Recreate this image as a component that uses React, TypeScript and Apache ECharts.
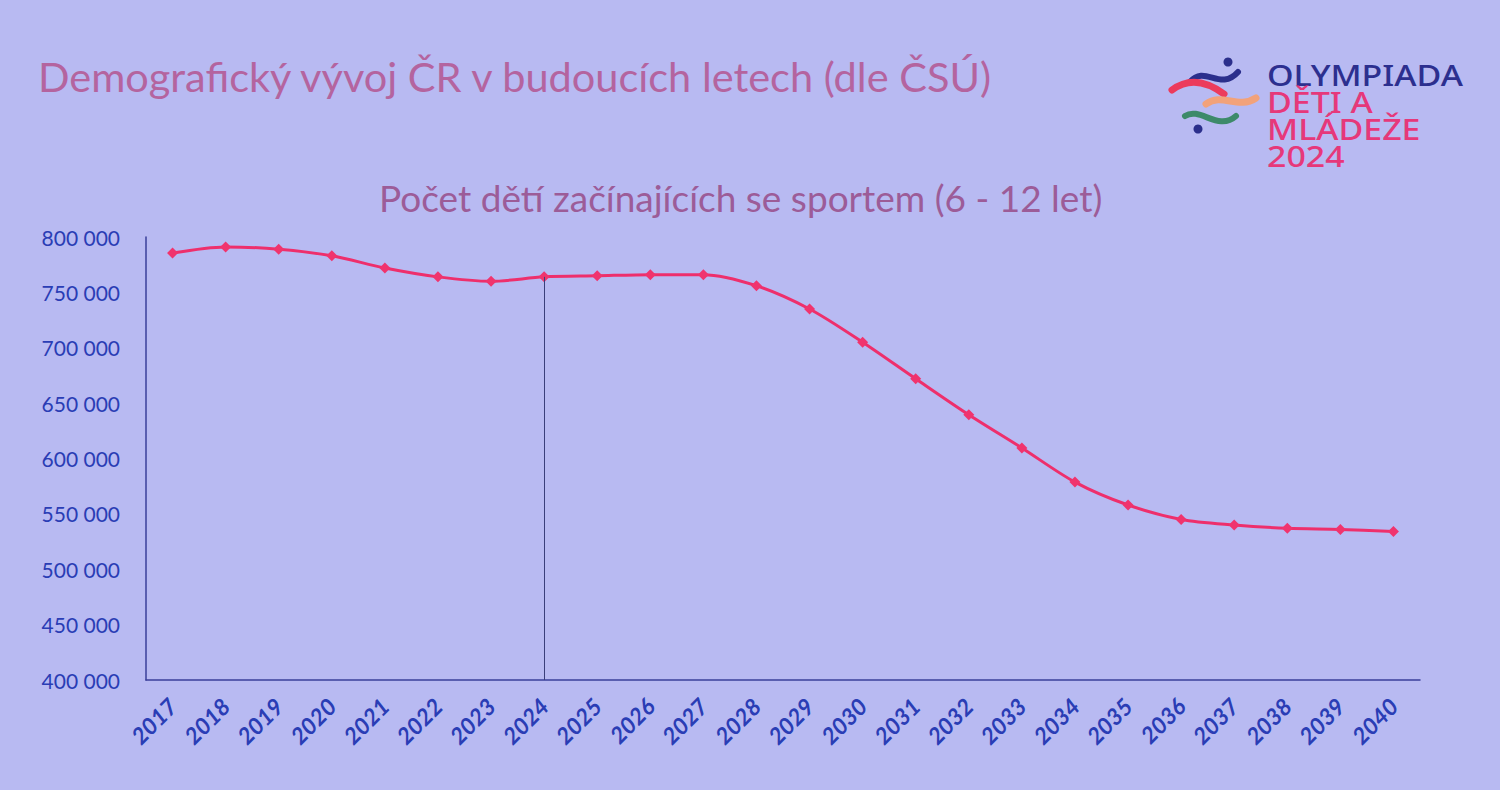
import React, { useEffect, useRef } from "react";
import * as echarts from "echarts";

const titleText = "Demografický vývoj ČR v budoucích letech (dle ČSÚ)";
const subtitleText = "Počet dětí začínajících se sportem (6 - 12 let)";
const logoTop = "OLYMPIADA";
const logoRest = ["DĚTI A", "MLÁDEŽE", "2024"];

const years = [
  "2017", "2018", "2019", "2020", "2021", "2022", "2023", "2024", "2025", "2026", "2027", "2028",
  "2029", "2030", "2031", "2032", "2033", "2034", "2035", "2036", "2037", "2038", "2039", "2040",
];
const children = [
  785500, 791000, 789000, 783000, 772000, 764000, 760000, 764000, 765000, 766000, 766000, 756000,
  735000, 705000, 672000, 639500, 609500, 578700, 558000, 545000, 540000, 537000, 536000, 534000,
];
const markYear = "2024";
const yMin = 400000;
const yMax = 800000;
const yStep = 50000;

const fmt = (v: number) => String(v).replace(/\B(?=(\d{3})+(?!\d))/g, " ");

export default function App() {
  const ref = useRef<HTMLDivElement>(null);
  useEffect(() => {
    if (!ref.current) return;
    const chart = echarts.init(ref.current, undefined, { renderer: "svg" });
    const markIdx = years.indexOf(markYear);
    const logoText =
      "{a|" + logoTop + "}\n" + logoRest.map((t) => "{b|" + t + "}").join("\n");
    chart.setOption({
      animation: false,
      backgroundColor: "#b8baf2",
      title: [
        {
          text: titleText,
          left: 33,
          top: 50,
          textStyle: { fontFamily: "Lato", fontSize: 41.5, fontWeight: "normal", color: "#b4649f" },
        },
        {
          text: subtitleText,
          left: 374,
          top: 174,
          textStyle: { fontFamily: "Lato", fontSize: 37, fontWeight: "normal", color: "#9c5c98" },
        },
      ],
      grid: { left: 146, right: 80, top: 237, bottom: 110, containLabel: false },
      xAxis: {
        type: "category",
        data: years,
        boundaryGap: true,
        axisLine: { lineStyle: { color: "#3a3f9a", width: 1.5 } },
        axisTick: { show: false },
        axisLabel: {
          rotate: 45,
          margin: 22,
          color: "#2a3db5",
          fontFamily: "Lato",
          fontSize: 23,
          fontWeight: "bold",
          fontStyle: "italic",
          interval: 0,
        },
        splitLine: { show: false },
      },
      yAxis: {
        type: "value",
        min: yMin,
        max: yMax,
        interval: yStep,
        axisLine: { show: true, lineStyle: { color: "#3a3f9a", width: 1.5 } },
        axisTick: { show: false },
        splitLine: { show: false },
        axisLabel: {
          formatter: (v: number) => fmt(v),
          color: "#2a3db5",
          fontFamily: "Lato",
          fontSize: 21,
          margin: 26,
        },
      },
      series: [
        {
          type: "line",
          data: children,
          smooth: 0.3,
          symbol: "diamond",
          symbolSize: 11,
          lineStyle: { color: "#ee2f6c", width: 3 },
          itemStyle: { color: "#f0346e" },
          markLine: {
            silent: true,
            symbol: "none",
            label: { show: false },
            lineStyle: { color: "#3a3f7a", width: 1, type: "solid" },
            data: [
              [
                { coord: [markYear, children[markIdx]] },
                { coord: [markYear, yMin] },
              ],
            ],
          },
        },
      ],
      graphic: [
        // logo waves
        {
          type: "bezierCurve",
          shape: { x1: 1190, y1: 82, x2: 1238, y2: 72, cpx1: 1205, cpy1: 64, cpx2: 1220, cpy2: 92 },
          style: { stroke: "#2b2f8c", lineWidth: 6, fill: null, lineCap: "round" },
        },
        { type: "circle", shape: { cx: 1228, cy: 62, r: 4.5 }, style: { fill: "#2b2f8c" } },
        {
          type: "bezierCurve",
          shape: { x1: 1172, y1: 90, x2: 1224, y2: 94, cpx1: 1188, cpy1: 78, cpx2: 1205, cpy2: 80 },
          style: { stroke: "#ec3b5c", lineWidth: 7, fill: null, lineCap: "round" },
        },
        {
          type: "bezierCurve",
          shape: { x1: 1206, y1: 104, x2: 1256, y2: 98, cpx1: 1222, cpy1: 92, cpx2: 1238, cpy2: 110 },
          style: { stroke: "#f2a27a", lineWidth: 7, fill: null, lineCap: "round" },
        },
        {
          type: "bezierCurve",
          shape: { x1: 1185, y1: 116, x2: 1236, y2: 116, cpx1: 1200, cpy1: 106, cpx2: 1218, cpy2: 132 },
          style: { stroke: "#3d8a6a", lineWidth: 6, fill: null, lineCap: "round" },
        },
        { type: "circle", shape: { cx: 1198, cy: 129, r: 4.5 }, style: { fill: "#2b2f8c" } },
        // logo text (one rich text block)
        {
          type: "text",
          x: 1267,
          y: 61,
          scaleX: 1.17,
          style: {
            text: logoText,
            rich: {
              a: { fill: "#2c2f8f", font: "500 29px 'Noto Sans'", lineHeight: 27 },
              b: { fill: "#e6387a", font: "500 29px 'Noto Sans'", lineHeight: 27 },
            },
          },
        },
      ],
    });
    return () => chart.dispose();
  }, []);
  return <div ref={ref} style={{ width: 1500, height: 790, position: "absolute", left: 0, top: 0 }} />;
}
